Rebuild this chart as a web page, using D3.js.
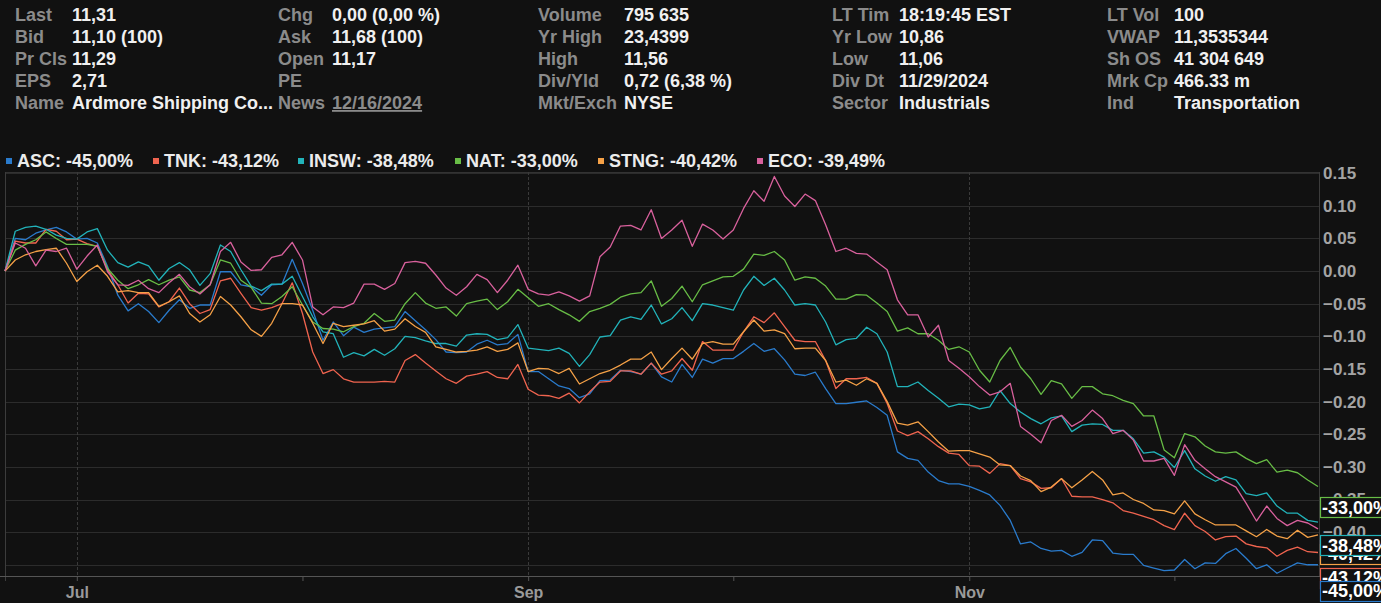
<!DOCTYPE html>
<html><head><meta charset="utf-8">
<script src="https://cdn.jsdelivr.net/npm/d3@7"></script>
<style>
html,body{margin:0;padding:0;background:#111111;overflow:hidden;}
svg{display:block;font-family:"Liberation Sans",Arial,sans-serif;}
</style></head><body>
<svg id="c" width="1381" height="603"></svg>
<script>
// ---------- header quote table ----------
const headerLabels = [
  ["Last","Bid","Pr Cls","EPS","Name"],
  ["Chg","Ask","Open","PE","News"],
  ["Volume","Yr High","High","Div/Yld","Mkt/Exch"],
  ["LT Tim","Yr Low","Low","Div Dt","Sector"],
  ["LT Vol","VWAP","Sh OS","Mrk Cp","Ind"]
];
const headerValues = [
  ["11,31","11,10 (100)","11,29","2,71","Ardmore Shipping Co..."],
  ["0,00 (0,00 %)","11,68 (100)","11,17","","12/16/2024"],
  ["795 635","23,4399","11,56","0,72 (6,38 %)","NYSE"],
  ["18:19:45 EST","10,86","11,06","11/29/2024","Industrials"],
  ["100","11,3535344","41 304 649","466.33 m","Transportation"]
];

// ---------- series ----------
const seriesNames = ["ASC","TNK","INSW","NAT","STNG","ECO"];
const seriesColors = ["#2a7bcc","#f0644f","#22b3ba","#68bd46","#f5a147","#d9619d"];

const ASC = [0,0.050,0.048,0.058,0.063,0.067,0.060,0.049,0.050,0.043,
0.007,-0.037,-0.061,-0.050,-0.062,-0.079,-0.060,-0.044,-0.057,-0.052,
-0.052,-0.001,-0.001,-0.021,-0.024,-0.037,-0.021,-0.020,0.018,-0.019,
-0.060,-0.106,-0.078,-0.099,-0.086,-0.094,-0.089,-0.087,-0.085,-0.062,
-0.076,-0.090,-0.105,-0.124,-0.125,-0.124,-0.112,-0.106,-0.113,-0.111,
-0.097,-0.154,-0.154,-0.165,-0.176,-0.180,-0.194,-0.188,-0.168,-0.167,
-0.152,-0.154,-0.158,-0.141,-0.162,-0.170,-0.143,-0.163,-0.135,-0.141,
-0.134,-0.134,-0.123,-0.111,-0.123,-0.119,-0.136,-0.158,-0.160,-0.155,
-0.180,-0.203,-0.203,-0.201,-0.199,-0.209,-0.221,-0.277,-0.287,-0.290,
-0.308,-0.321,-0.326,-0.326,-0.330,-0.336,-0.343,-0.359,-0.382,-0.418,
-0.415,-0.425,-0.429,-0.428,-0.437,-0.431,-0.412,-0.413,-0.432,-0.434,
-0.434,-0.451,-0.455,-0.459,-0.458,-0.442,-0.456,-0.447,-0.448,-0.433,
-0.425,-0.440,-0.456,-0.450,-0.463,-0.455,-0.447,-0.450,-0.4500];

const TNK = [0,0.046,0.043,0.043,0.064,0.061,0.048,0.049,0.042,0.038,
0.002,-0.021,-0.049,-0.034,-0.035,-0.055,-0.047,-0.026,-0.050,-0.065,
-0.059,-0.015,-0.011,-0.034,-0.056,-0.060,-0.056,-0.050,-0.018,-0.065,
-0.124,-0.157,-0.151,-0.165,-0.170,-0.170,-0.170,-0.169,-0.170,-0.137,
-0.128,-0.141,-0.153,-0.165,-0.172,-0.161,-0.158,-0.154,-0.163,-0.165,
-0.143,-0.181,-0.190,-0.191,-0.195,-0.187,-0.202,-0.185,-0.170,-0.169,
-0.153,-0.153,-0.158,-0.141,-0.158,-0.153,-0.134,-0.152,-0.108,-0.121,
-0.121,-0.121,-0.093,-0.070,-0.079,-0.064,-0.085,-0.106,-0.108,-0.108,
-0.137,-0.180,-0.165,-0.165,-0.163,-0.172,-0.203,-0.245,-0.252,-0.246,
-0.257,-0.269,-0.279,-0.281,-0.298,-0.299,-0.310,-0.295,-0.298,-0.318,
-0.323,-0.333,-0.332,-0.318,-0.345,-0.346,-0.346,-0.350,-0.355,-0.367,
-0.371,-0.376,-0.381,-0.390,-0.396,-0.371,-0.390,-0.399,-0.412,-0.407,
-0.406,-0.418,-0.422,-0.424,-0.437,-0.428,-0.423,-0.430,-0.4312];

const INSW = [0,0.061,0.067,0.069,0.064,0.055,0.050,0.049,0.060,0.065,
0.032,0.013,0.006,0.014,0.008,-0.014,0.004,0.013,0.002,-0.022,
-0.004,0.040,0.030,0.002,-0.023,-0.030,-0.020,-0.020,-0.008,-0.039,
-0.070,-0.093,-0.096,-0.132,-0.125,-0.130,-0.120,-0.129,-0.119,-0.100,
-0.102,-0.107,-0.111,-0.111,-0.115,-0.098,-0.096,-0.097,-0.105,-0.102,
-0.082,-0.118,-0.120,-0.122,-0.118,-0.126,-0.146,-0.128,-0.101,-0.099,
-0.075,-0.070,-0.074,-0.052,-0.081,-0.073,-0.056,-0.076,-0.050,-0.052,
-0.056,-0.060,-0.029,-0.008,-0.022,-0.011,-0.029,-0.052,-0.050,-0.052,
-0.078,-0.113,-0.105,-0.103,-0.086,-0.096,-0.124,-0.177,-0.177,-0.170,
-0.183,-0.195,-0.208,-0.204,-0.205,-0.211,-0.208,-0.183,-0.203,-0.216,
-0.226,-0.234,-0.225,-0.222,-0.246,-0.236,-0.234,-0.235,-0.244,-0.244,
-0.257,-0.279,-0.277,-0.285,-0.301,-0.275,-0.303,-0.314,-0.322,-0.315,
-0.320,-0.341,-0.344,-0.340,-0.360,-0.371,-0.371,-0.382,-0.3848];

const NAT = [0,0.032,0.041,0.048,0.060,0.050,0.041,0.041,0.041,0.038,
0.004,-0.014,-0.027,-0.021,-0.013,-0.021,-0.014,-0.009,-0.029,-0.033,
-0.021,0.017,0.012,-0.014,-0.025,-0.049,-0.050,-0.039,-0.024,-0.052,
-0.078,-0.088,-0.089,-0.093,-0.085,-0.080,-0.065,-0.077,-0.075,-0.050,
-0.033,-0.049,-0.057,-0.055,-0.069,-0.050,-0.046,-0.043,-0.059,-0.047,
-0.028,-0.041,-0.054,-0.050,-0.059,-0.067,-0.077,-0.062,-0.057,-0.051,
-0.040,-0.035,-0.033,-0.015,-0.054,-0.042,-0.023,-0.047,-0.021,-0.015,
-0.009,-0.008,0.003,0.026,0.024,0.030,0.017,-0.014,-0.009,-0.011,
-0.023,-0.043,-0.043,-0.036,-0.037,-0.049,-0.062,-0.092,-0.087,-0.096,
-0.096,-0.106,-0.120,-0.116,-0.124,-0.152,-0.170,-0.137,-0.117,-0.147,
-0.165,-0.189,-0.168,-0.173,-0.195,-0.177,-0.177,-0.188,-0.191,-0.198,
-0.203,-0.222,-0.222,-0.274,-0.286,-0.249,-0.254,-0.268,-0.277,-0.279,
-0.277,-0.287,-0.295,-0.289,-0.308,-0.305,-0.309,-0.320,-0.3300];

const STNG = [0,0.017,0.025,0.030,0.033,0.035,0.012,-0.016,-0.001,0.009,
-0.008,-0.032,-0.030,-0.033,-0.033,-0.054,-0.047,-0.038,-0.065,-0.078,
-0.067,-0.039,-0.052,-0.070,-0.090,-0.100,-0.080,-0.050,-0.050,-0.052,
-0.080,-0.111,-0.080,-0.085,-0.083,-0.081,-0.076,-0.092,-0.089,-0.073,
-0.085,-0.094,-0.116,-0.120,-0.124,-0.123,-0.121,-0.116,-0.123,-0.120,
-0.110,-0.154,-0.149,-0.150,-0.157,-0.149,-0.173,-0.165,-0.157,-0.152,
-0.144,-0.135,-0.135,-0.124,-0.151,-0.134,-0.118,-0.135,-0.111,-0.108,
-0.112,-0.112,-0.093,-0.075,-0.092,-0.090,-0.096,-0.119,-0.118,-0.118,
-0.137,-0.170,-0.167,-0.175,-0.165,-0.172,-0.200,-0.233,-0.236,-0.231,
-0.246,-0.262,-0.276,-0.275,-0.275,-0.280,-0.285,-0.297,-0.298,-0.314,
-0.321,-0.338,-0.331,-0.318,-0.332,-0.320,-0.307,-0.320,-0.343,-0.340,
-0.350,-0.356,-0.366,-0.367,-0.372,-0.352,-0.372,-0.381,-0.389,-0.389,
-0.389,-0.398,-0.407,-0.396,-0.406,-0.410,-0.397,-0.408,-0.4042];

const ECO = [0,0.043,0.035,0.008,0.032,0.030,0.035,0.003,0.023,0.040,
-0.001,-0.021,-0.022,-0.014,-0.027,-0.033,-0.018,-0.005,-0.024,-0.035,
-0.021,0.030,0.044,0.014,0.001,0.002,0.021,0.025,0.044,0.017,
-0.055,-0.067,-0.055,-0.056,-0.049,-0.020,-0.020,-0.028,-0.019,0.013,
0.015,0.012,-0.006,-0.026,-0.037,-0.024,-0.005,-0.013,-0.033,-0.014,
0.009,-0.028,-0.035,-0.037,-0.032,-0.038,-0.046,-0.038,0.022,0.037,
0.069,0.070,0.063,0.094,0.050,0.063,0.078,0.038,0.072,0.063,
0.049,0.063,0.096,0.123,0.107,0.145,0.115,0.099,0.118,0.108,
0.071,0.030,0.035,0.027,0.026,0.014,0.002,-0.044,-0.067,-0.067,
-0.101,-0.083,-0.137,-0.149,-0.162,-0.177,-0.190,-0.185,-0.172,-0.238,
-0.250,-0.263,-0.229,-0.221,-0.238,-0.229,-0.213,-0.226,-0.249,-0.244,
-0.259,-0.291,-0.291,-0.287,-0.313,-0.266,-0.290,-0.303,-0.315,-0.323,
-0.331,-0.356,-0.383,-0.360,-0.379,-0.390,-0.382,-0.386,-0.3949];

// x axis: trading-day index of first session of each month (Jun 20 = index 0)
const monthTickIndex = [7, 29, 51, 71, 94, 114];
const monthTickLabels = ["Jul", "", "Sep", "", "Nov", ""];
const yTickValues = [0.15,0.10,0.05,0.00,-0.05,-0.10,-0.15,-0.20,-0.25,-0.30,-0.35,-0.40,-0.45];
const yTickLabelled = [0.15,0.10,0.05,0.00,-0.05,-0.10,-0.15,-0.20,-0.25,-0.30,-0.35,-0.40];

// ---------- drawing ----------
const seriesData = [ASC, TNK, INSW, NAT, STNG, ECO];
const svg = d3.select("#c");
const W = 1381, H = 603;
svg.append("rect").attr("width", W).attr("height", H).attr("fill", "#111111");

// header
const colLabelX = [15, 278, 538, 832, 1107];
const colValueX = [72, 332, 624, 899, 1174];
const rowY = [21, 43, 65, 87, 109];
headerLabels.forEach((col, c) => {
  col.forEach((lab, r) => {
    svg.append("text").attr("x", colLabelX[c]).attr("y", rowY[r])
      .attr("font-size", 18).attr("font-weight", "bold").attr("fill", "#8b8b8b").text(lab);
    const v = headerValues[c][r];
    if (v) {
      const t = svg.append("text").attr("x", colValueX[c]).attr("y", rowY[r])
        .attr("font-size", 18).attr("font-weight", "bold")
        .attr("fill", lab === "News" ? "#8b8b8b" : "#f0f0f0").text(v);
      if (lab === "News") t.attr("text-decoration", "underline");
    }
  });
});

// scales
const N = ASC.length;
const x = d3.scaleLinear().domain([0, N - 1]).range([5, 1318]);
const y = d3.scaleLinear().domain([-0.4672, 0.1518]).range([576, 172]);
const plotL = 5, plotR = 1320, plotT = 172, plotB = 576;

// gridlines
const g = svg.append("g");
g.selectAll("line.h").data(yTickValues).join("line")
  .attr("x1", plotL).attr("x2", plotR)
  .attr("y1", d => Math.round(y(d)) + 0.5).attr("y2", d => Math.round(y(d)) + 0.5)
  .attr("stroke", "#2c2c2c").attr("stroke-width", 1);
g.append("line").attr("x1", plotL).attr("x2", plotR).attr("y1", plotT + 0.5).attr("y2", plotT + 0.5)
  .attr("stroke", "#333").attr("stroke-width", 1);
g.selectAll("line.v").data(monthTickIndex.filter((d, i) => monthTickLabels[i])).join("line")
  .attr("x1", d => Math.round(x(d)) + 0.5).attr("x2", d => Math.round(x(d)) + 0.5)
  .attr("y1", plotT).attr("y2", plotB)
  .attr("stroke", "#3a3a3a").attr("stroke-dasharray", "3,2").attr("stroke-width", 1);
g.append("line").attr("x1", plotL + 0.5).attr("x2", plotL + 0.5).attr("y1", plotT).attr("y2", plotB + 5)
  .attr("stroke", "#3c3c3c");
g.append("line").attr("x1", plotR - 0.5).attr("x2", plotR - 0.5).attr("y1", plotT).attr("y2", plotB)
  .attr("stroke", "#3c3c3c");

// bottom axis
const xAxis = d3.axisBottom(x).tickValues(monthTickIndex)
  .tickFormat((d, i) => monthTickLabels[i]).tickSize(5).tickPadding(6);
const gx = svg.append("g").attr("transform", `translate(0,${plotB})`).call(xAxis);
gx.select(".domain").attr("d", `M0,0.5H${plotR}`).attr("stroke", "#555");
gx.selectAll(".tick line").attr("stroke", "#555");
gx.selectAll("text").attr("fill", "#9a9a9a").attr("font-size", 16).attr("font-weight", "bold")
  .attr("font-family", "'Liberation Sans', Arial, sans-serif");

// right axis labels
const yAxis = d3.axisRight(y).tickValues(yTickLabelled).tickFormat(d3.format(".2f")).tickSize(0).tickPadding(3);
const gy = svg.append("g").attr("transform", `translate(${plotR},0)`).call(yAxis);
gy.select(".domain").remove();
gy.selectAll("text").attr("fill", "#a4a4a4").attr("font-size", 17).attr("font-weight", "bold")
  .attr("font-family", "'Liberation Sans', Arial, sans-serif");

// lines
svg.append("clipPath").attr("id", "clip").append("rect")
  .attr("x", 0).attr("y", plotT).attr("width", plotR).attr("height", plotB - plotT);
const line = d3.line().x((d, i) => x(i)).y(d => y(d));
const lg = svg.append("g").attr("clip-path", "url(#clip)");
seriesData.forEach((s, k) => {
  lg.append("path").datum(s).attr("d", line).attr("fill", "none")
    .attr("stroke", seriesColors[k]).attr("stroke-width", 1.3).attr("stroke-linejoin", "round");
});

// legend
const fmtPct = v => (v * 100).toFixed(2).replace(".", ",") + "%";
const legendX = [6, 153, 298, 455, 598, 757];
seriesNames.forEach((nm, k) => {
  const last = seriesData[k][N - 1];
  svg.append("rect").attr("x", legendX[k]).attr("y", 158).attr("width", 6).attr("height", 6)
    .attr("fill", seriesColors[k]);
  svg.append("text").attr("x", legendX[k] + 11).attr("y", 167)
    .attr("font-size", 18).attr("font-weight", "bold").attr("fill", "#ececec")
    .text(`${nm}: ${fmtPct(last)}`);
});

// last-value tags at right
const tagOffset = {ECO: 21, STNG: 19, TNK: 25, INSW: 23, ASC: 26, NAT: 21};
const tagOrder = ["ECO", "STNG", "TNK", "INSW", "ASC", "NAT"];
tagOrder.forEach(nm => {
  const k = seriesNames.indexOf(nm);
  const last = seriesData[k][N - 1];
  const cy = y(last) + tagOffset[nm];
  svg.append("rect").attr("x", plotR + 0.5).attr("y", Math.round(cy - 10) + 0.5)
    .attr("width", 70).attr("height", 20).attr("fill", "#111111")
    .attr("stroke", seriesColors[k]).attr("stroke-width", 1.2);
  svg.append("text").attr("x", plotR + 2).attr("y", cy + 6.5)
    .attr("font-size", 18).attr("font-weight", "bold").attr("fill", "#ffffff")
    .text(fmtPct(last));
});
</script>
</body></html>
